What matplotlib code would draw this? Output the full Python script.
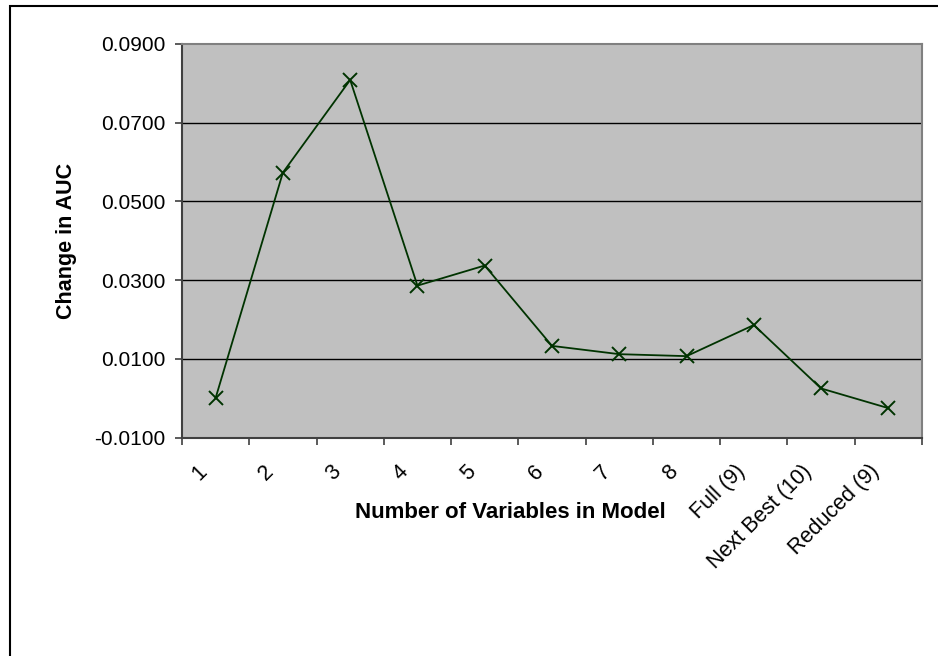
import numpy as np
import matplotlib
matplotlib.use("Agg")
import matplotlib.pyplot as plt
from matplotlib.patches import Rectangle
from matplotlib.transforms import ScaledTranslation

categories = ["1", "2", "3", "4", "5", "6", "7", "8",
              "Full (9)", "Next Best (10)", "Reduced (9)"]
change_auc = [0.0001, 0.0573, 0.0808, 0.0286, 0.0337, 0.0133,
              0.0112, 0.0107, 0.0186, 0.0025, -0.0025]
y_ticks = [-0.01, 0.01, 0.03, 0.05, 0.07, 0.09]

plt.rcParams['font.family'] = ['Liberation Sans', 'DejaVu Sans']

W, H = 938, 656
fig = plt.figure(figsize=(W / 100, H / 100), dpi=100)
fig.patch.set_facecolor("white")

# outer chart border (cropped at right / bottom like the original)
fig.patches.append(Rectangle((10 / W, -0.1), 1.2, 1 - 6 / H + 0.1,
                             transform=fig.transFigure, fill=False,
                             edgecolor="black", linewidth=1.5))

ax = fig.add_axes([182 / W, 1 - 437.7 / H, (922 - 182) / W, (437.7 - 43.7) / H])
ax.set_facecolor("#C0C0C0")

x = np.arange(1, len(categories) + 1)
ax.plot(x, change_auc, color="#003300", linewidth=1.3, marker="x",
        markersize=10, markeredgewidth=1.4, zorder=3)

ax.set_xlim(0.5, len(categories) + 0.5)
ax.set_ylim(-0.01, 0.09)
ax.set_yticks(y_ticks)
ax.set_yticklabels(["%.4f" % v for v in y_ticks], fontsize=15)
for v in y_ticks[1:-1]:
    ax.axhline(v, color="black", linewidth=1.0, zorder=1)

# tick marks between categories, labels at the centres
ax.set_xticks(x)
ax.set_xticklabels(categories, fontsize=15.5, rotation=45,
                   rotation_mode="anchor", ha="right", va="center")
ax.set_xticks(np.arange(0.5, len(categories) + 1, 1), minor=True)
ax.tick_params(axis="x", which="major", length=0, pad=22)
ax.tick_params(axis="x", which="minor", length=5, width=1.2, color="#404040")
ax.tick_params(axis="y", length=5, width=1.2, color="#404040", pad=7)
off = ScaledTranslation(-0.12, 0, fig.dpi_scale_trans)
for lab in ax.get_xticklabels():
    lab.set_transform(lab.get_transform() + off)

for s in ["top", "right"]:
    ax.spines[s].set_color("#808080")
    ax.spines[s].set_linewidth(1.5)
for s in ["left", "bottom"]:
    ax.spines[s].set_color("#404040")
    ax.spines[s].set_linewidth(1.5)

ax.set_ylabel("Change in AUC", fontsize=15.5, fontweight="bold", labelpad=12)
fig.text(510 / W, 1 - 512 / H, "Number of Variables in Model", fontsize=16,
         fontweight="bold", ha="center", va="center")

fig.savefig("out.png", dpi=100)
